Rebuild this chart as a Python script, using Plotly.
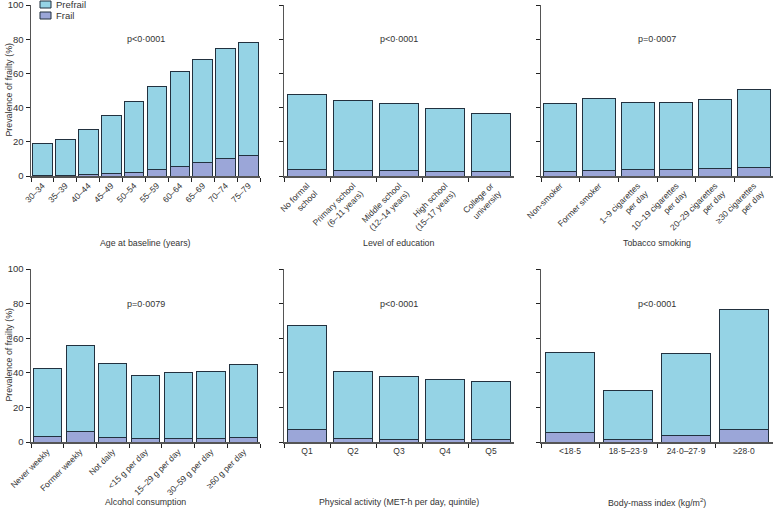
import plotly.graph_objects as go

# ---- data ----
age_cats = ["30–34", "35–39", "40–44", "45–49", "50–54", "55–59", "60–64", "65–69", "70–74", "75–79"]
age_frail = [0.3, 0.4, 1.0, 1.4, 2.0, 3.7, 5.8, 7.8, 10.1, 11.9]
age_prefrail = [18.6, 21.0, 26.0, 34.0, 41.6, 48.6, 55.1, 60.3, 64.4, 66.3]

edu_cats = ["No formal<br>school", "Primary school<br>(6–11 years)", "Middle school<br>(12–14 years)",
            "High school<br>(15–17 years)", "College or<br>university"]
edu_frail = [3.7, 3.1, 3.1, 2.9, 2.5]
edu_prefrail = [43.8, 41.3, 39.5, 36.8, 34.1]

smk_cats = ["Non-smoker", "Former smoker", "1–9 cigarettes<br>per day", "10–19 cigarettes<br>per day",
            "20–29 cigarettes<br>per day", "≥30 cigarettes<br>per day"]
smk_frail = [2.7, 3.1, 3.7, 3.7, 4.1, 5.1]
smk_prefrail = [39.7, 42.0, 39.3, 39.1, 40.8, 45.3]

alc_cats = ["Never weekly", "Former weekly", "Not daily", "&lt;15 g per day", "15–29 g per day",
            "30–59 g per day", "≥60 g per day"]
alc_frail = [3.1, 6.0, 2.7, 2.1, 1.9, 2.3, 2.5]
alc_prefrail = [39.5, 49.5, 42.6, 36.6, 38.1, 38.3, 42.4]

pa_cats = ["Q1", "Q2", "Q3", "Q4", "Q5"]
pa_frail = [7.4, 2.3, 1.7, 1.5, 1.2]
pa_prefrail = [60.1, 38.3, 36.0, 34.5, 33.6]

bmi_cats = ["&lt;18·5", "18·5–23·9", "24·0–27·9", "≥28·0"]
bmi_frail = [5.4, 1.7, 3.7, 7.4]
bmi_prefrail = [46.2, 28.3, 47.6, 69.4]

legend_labels = ["Prefrail", "Frail"]

panels = [
    (age_cats, age_frail, age_prefrail, "Age at baseline (years)", "p&lt;0·0001", -45),
    (edu_cats, edu_frail, edu_prefrail, "Level of education", "p&lt;0·0001", -45),
    (smk_cats, smk_frail, smk_prefrail, "Tobacco smoking", "p=0·0007", -45),
    (alc_cats, alc_frail, alc_prefrail, "Alcohol consumption", "p=0·0079", -45),
    (pa_cats, pa_frail, pa_prefrail, "Physical activity (MET-h per day, quintile)", "p&lt;0·0001", 0),
    (bmi_cats, bmi_frail, bmi_prefrail, "Body-mass index (kg/m<sup>2</sup>)", "p&lt;0·0001", 0),
]

# ---- styling ----
W, H = 775, 509
FONT = "Liberation Sans, Arial, sans-serif"
TXT = "#333333"
PREFRAIL = "#95d3e5"
FRAIL = "#9ba6d8"
EDGE = "#22313f"
AXIS = "#555555"

col_px = [(31, 260), (284, 514), (541, 773)]
row_px = [(5, 176), (269, 442)]  # (top=100, bottom=0) in pixels from top
xtitle_y_px = [243, 502]


def px(xp, yp):
    return xp / W, (H - yp) / H


fig = go.Figure()
layout = dict(
    width=W, height=H, margin=dict(l=0, r=0, t=0, b=0, autoexpand=False),
    paper_bgcolor="white", plot_bgcolor="white",
    barmode="stack", bargap=0.14,
    font=dict(family=FONT, size=9, color=TXT),
    showlegend=False,
)
annotations = []
shapes = []

for i, (cats, frail, prefrail, xtitle, ptxt, angle) in enumerate(panels):
    r, c = divmod(i, 3)
    n = i + 1
    xa = "x" if n == 1 else f"x{n}"
    ya = "y" if n == 1 else f"y{n}"
    fig.add_trace(go.Bar(x=cats, y=frail, name="Frail", marker=dict(color=FRAIL, line=dict(color=EDGE, width=1)),
                         xaxis=xa, yaxis=ya, hoverinfo="skip"))
    fig.add_trace(go.Bar(x=cats, y=prefrail, name="Prefrail", marker=dict(color=PREFRAIL, line=dict(color=EDGE, width=1)),
                         xaxis=xa, yaxis=ya, hoverinfo="skip"))
    x0, x1 = col_px[c]
    ytop, ybot = row_px[r]
    xkey = "xaxis" if n == 1 else f"xaxis{n}"
    ykey = "yaxis" if n == 1 else f"yaxis{n}"
    layout[xkey] = dict(
        domain=[x0 / W, x1 / W], anchor=ya, type="category", automargin=False,
        showline=True, linecolor=AXIS, linewidth=1.5,
        ticks="outside", tickson="boundaries", ticklen=4, tickcolor="#222", tickwidth=1,
        tickangle=angle, showgrid=False, zeroline=False, ticklabeloverflow="allow",
        tickfont=dict(size=8.5, color=TXT),
    )
    layout[ykey] = dict(
        domain=[(H - ybot) / H, (H - ytop) / H], anchor=xa, automargin=False,
        range=[0, 100], tickvals=[0, 20, 40, 60, 80, 100],
        showline=True, linecolor=AXIS, linewidth=1.5,
        ticks="outside", ticklen=4, tickcolor="#222", tickwidth=1,
        showticklabels=(c == 0), showgrid=False, zeroline=False, ticklabeloverflow="allow",
        tickfont=dict(size=9.5, color=TXT),
    )
    # p-value
    annotations.append(dict(text=ptxt, xref=f"{xa} domain", yref=ya, x=0.5, y=80,
                            showarrow=False, font=dict(size=9, color=TXT)))
    # x-axis title
    annotations.append(dict(text=xtitle, xref=f"{xa} domain", yref="paper", x=0.5,
                            y=(H - xtitle_y_px[r]) / H, yanchor="middle",
                            showarrow=False, font=dict(size=8.8, color=TXT)))
    if c == 0:
        annotations.append(dict(text="Prevalence of frailty (%)", xref="paper", yref=f"{ya} domain",
                                x=8 / W, y=0.5, xanchor="center", yanchor="middle", textangle=-90,
                                showarrow=False, font=dict(size=8.8, color=TXT)))

# legend (drawn compactly, as in the reference)
leg_colors = [PREFRAIL, FRAIL]
for k, (lab, col) in enumerate(zip(legend_labels, leg_colors)):
    yc = 4.5 + 11 * k
    ax0, ay0 = px(40, yc - 3.5)
    ax1, ay1 = px(51, yc + 3.5)
    shapes.append(dict(type="rect", xref="paper", yref="paper", x0=ax0, x1=ax1, y0=ay1, y1=ay0,
                       fillcolor=col, line=dict(color=EDGE, width=1)))
    tx, ty = px(54, yc)
    annotations.append(dict(text=lab, xref="paper", yref="paper", x=tx, y=ty, xanchor="left",
                            yanchor="middle", showarrow=False, font=dict(size=9.5, color=TXT)))

layout["annotations"] = annotations
layout["shapes"] = shapes
fig.update_layout(**layout)
fig.write_html("out.html", config={"displayModeBar": False, "staticPlot": True},
               post_script="document.body.style.margin='0';document.body.style.overflow='hidden';")
